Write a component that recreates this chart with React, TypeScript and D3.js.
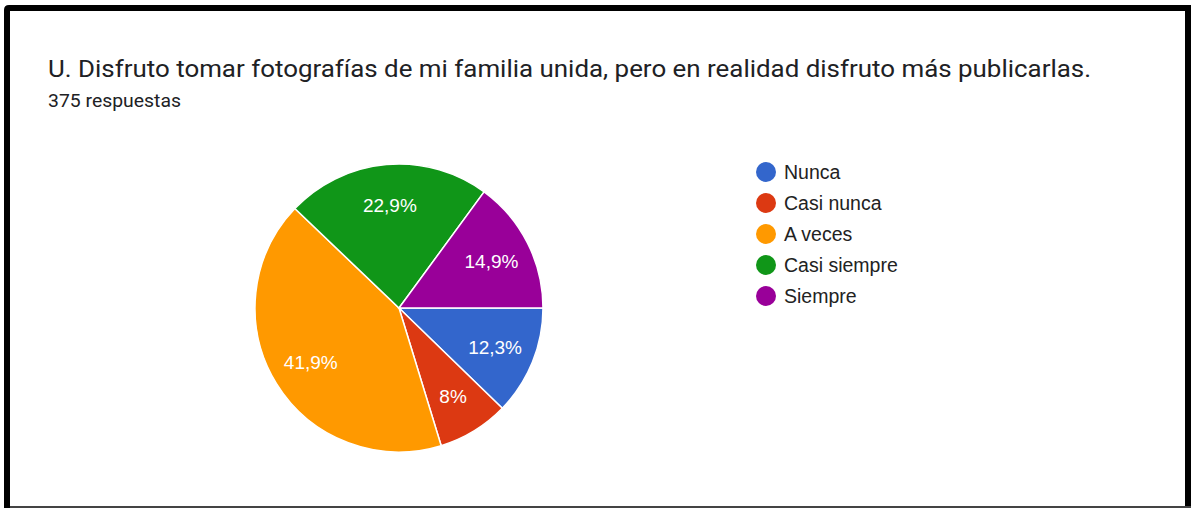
import React, { useEffect, useRef } from 'react';
import * as d3 from 'd3';

const title = 'U. Disfruto tomar fotografías de mi familia unida, pero en realidad disfruto más publicarlas.';
const subtitle = '375 respuestas';
const categories = ['Nunca', 'Casi nunca', 'A veces', 'Casi siempre', 'Siempre'];
const counts = [46, 30, 157, 86, 56];
const colors = ['#3366cc', '#dc3912', '#ff9900', '#109618', '#990099'];

const W = 1192;
const H = 508;

function formatPct(v: number) {
  const r = Math.round(v * 1000) / 10;
  return (Number.isInteger(r) ? String(r) : r.toFixed(1)).replace('.', ',') + '%';
}

function PieChart() {
  const svgRef = useRef<SVGSVGElement | null>(null);

  useEffect(() => {
    const svg = d3.select(svgRef.current);
    svg.selectAll('*').remove();

    svg.append('rect').attr('width', W).attr('height', H).attr('fill', '#fff');

    // frame around the screenshot
    svg.append('rect').attr('x', 4).attr('y', 506).attr('width', 1187).attr('height', 2).attr('fill', '#444');
    svg.append('path')
      .attr('d', 'M7,508 L7,10 Q7,8 9,8 L1188,8 L1188,506')
      .attr('fill', 'none')
      .attr('stroke', '#000')
      .attr('stroke-width', 6);

    svg.append('text')
      .attr('x', 48)
      .attr('y', 77)
      .attr('font-family', 'Roboto, Arial, sans-serif')
      .attr('font-size', 24.5)
      .attr('fill', '#202124')
      .attr('textLength', 1043)
      .attr('lengthAdjust', 'spacingAndGlyphs')
      .text(title);

    svg.append('text')
      .attr('x', 48)
      .attr('y', 107)
      .attr('font-family', 'Roboto, Arial, sans-serif')
      .attr('font-size', 19)
      .attr('fill', '#202124')
      .attr('textLength', 133)
      .attr('lengthAdjust', 'spacingAndGlyphs')
      .text(subtitle);

    const cx = 399;
    const cy = 308;
    const r = 144;
    const total = d3.sum(counts);

    const pie = d3.pie<number>()
      .sort(null)
      .startAngle(Math.PI / 2)
      .endAngle(Math.PI / 2 + 2 * Math.PI)(counts);

    const arc = d3.arc<d3.PieArcDatum<number>>().innerRadius(0).outerRadius(r);
    const labelArc = d3.arc<d3.PieArcDatum<number>>().innerRadius(r * 0.72).outerRadius(r * 0.72);

    const g = svg.append('g').attr('transform', `translate(${cx},${cy})`);

    g.selectAll('path.slice')
      .data(pie)
      .enter()
      .append('path')
      .attr('class', 'slice')
      .attr('d', arc)
      .attr('fill', (d, i) => colors[i])
      .attr('stroke', '#fff')
      .attr('stroke-width', 1.5);

    g.selectAll('text.lbl')
      .data(pie)
      .enter()
      .append('text')
      .attr('class', 'lbl')
      .attr('transform', d => `translate(${labelArc.centroid(d)})`)
      .attr('text-anchor', 'middle')
      .attr('dy', '0.36em')
      .attr('font-family', 'Arial, "Liberation Sans", sans-serif')
      .attr('font-size', 19)
      .attr('fill', '#fff')
      .text(d => formatPct(d.data / total));

    const legend = svg.append('g').attr('transform', 'translate(766,172)');
    const rows = legend.selectAll('g')
      .data(categories)
      .enter()
      .append('g')
      .attr('transform', (d, i) => `translate(0,${i * 31})`);

    rows.append('circle').attr('r', 10).attr('fill', (d, i) => colors[i]);
    rows.append('text')
      .attr('x', 18)
      .attr('dy', '0.36em')
      .attr('font-family', 'Arial, "Liberation Sans", sans-serif')
      .attr('font-size', 19.5)
      .attr('fill', '#222')
      .text(d => d);
  }, []);

  return <svg ref={svgRef} width={W} height={H} style={{ display: 'block' }} />;
}

export default function App() {
  return (
    <div style={{ position: 'absolute', left: 0, top: 0, width: W, height: H, overflow: 'hidden' }}>
      <PieChart />
    </div>
  );
}
